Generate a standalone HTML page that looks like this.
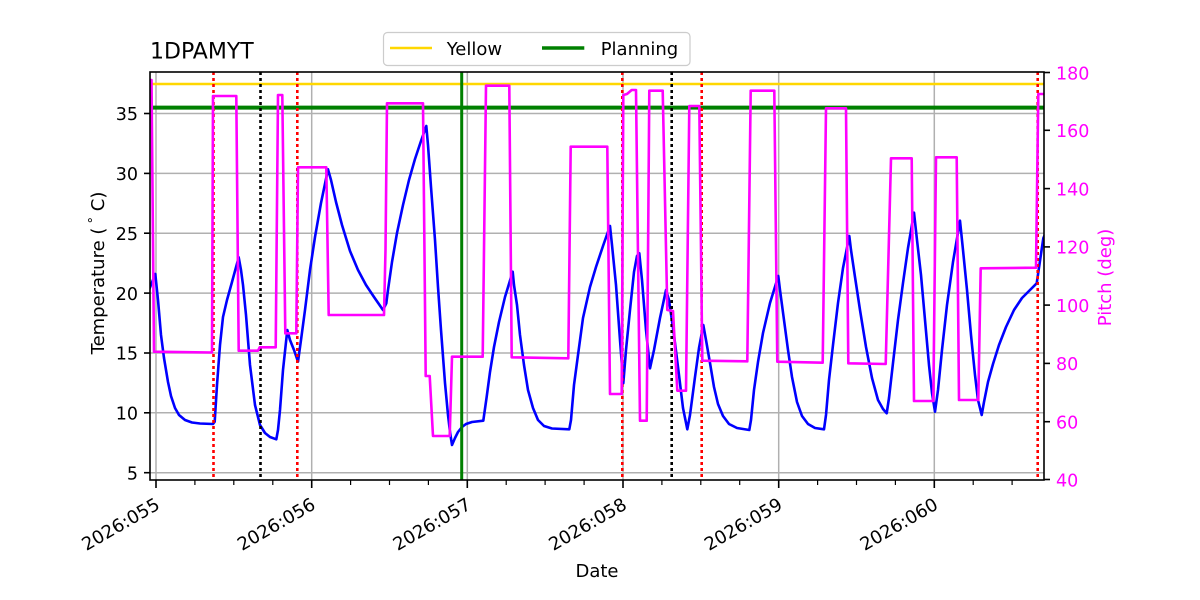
<!DOCTYPE html>
<html>
<head>
<meta charset="utf-8">
<style>
  html, body { margin: 0; padding: 0; background: #ffffff; }
  svg { display: block; }
  text { font-family: "DejaVu Sans", "Liberation Sans", sans-serif; }
</style>
</head>
<body>
<svg width="1200" height="600" viewBox="0 0 1200 600" xmlns="http://www.w3.org/2000/svg">
  <defs>
    <clipPath id="plot">
      <rect x="150" y="72" width="894" height="408"/>
    </clipPath>
  </defs>
  <rect x="0" y="0" width="1200" height="600" fill="#ffffff"/>

  <!-- grid -->
  <g stroke="#b0b0b0" stroke-width="1.5" clip-path="url(#plot)">
    <line x1="156" y1="72" x2="156" y2="480"/>
    <line x1="311.7" y1="72" x2="311.7" y2="480"/>
    <line x1="467.3" y1="72" x2="467.3" y2="480"/>
    <line x1="623" y1="72" x2="623" y2="480"/>
    <line x1="778.7" y1="72" x2="778.7" y2="480"/>
    <line x1="934.3" y1="72" x2="934.3" y2="480"/>
    <line x1="150" y1="113.5" x2="1044" y2="113.5"/>
    <line x1="150" y1="173.4" x2="1044" y2="173.4"/>
    <line x1="150" y1="233.2" x2="1044" y2="233.2"/>
    <line x1="150" y1="293.1" x2="1044" y2="293.1"/>
    <line x1="150" y1="353" x2="1044" y2="353"/>
    <line x1="150" y1="412.8" x2="1044" y2="412.8"/>
    <line x1="150" y1="472.7" x2="1044" y2="472.7"/>
  </g>

  <g clip-path="url(#plot)">
    <!-- limit lines -->
    <line x1="150" y1="84" x2="1044" y2="84" stroke="#ffd700" stroke-width="2.6"/>
    <line x1="150" y1="107.6" x2="1044" y2="107.6" stroke="#008000" stroke-width="4"/>

    <!-- blue temperature -->
    <path fill="none" stroke="#0000ff" stroke-width="2.6" stroke-linejoin="round"
      d="M149,290 L155.3,274 L158,300 L161,335 L164,358 L168,382 L171,396 L175,408 L179,415 L185,420 L192,422.5 L200,423.5 L213,424 L214.7,421.7 L217,385 L220,345 L223,317 L227,300 L232,282 L238.7,257.3 L241,270 L243,285 L246,315 L250,365 L255,405 L260,425 L265,433 L270,437 L276.3,439.3 L278,430 L280,410 L283,370 L287.3,330 L290,340 L294,350 L298,361.7 L301,340 L305,310 L310,270 L315,237 L321,203 L328,169.3 L331,180 L336,202 L342,225 L350,251 L358,270 L366,285 L374,297 L383,310 L386.3,303.3 L388,290 L392,262 L397,233 L403,205 L409,180 L415,159 L421,141 L426.3,126 L428,145 L431,187 L435,240 L438,287 L441,330 L445,383 L448,415 L450,432 L452,445 L455,438 L458,432 L462,427 L466,424 L472,422 L483.3,420.7 L486.7,396.7 L490,372 L494,347 L499,322 L505,297 L512.7,271.7 L514,285 L517,305 L520,335 L524,365 L528,390 L533,408 L538,420 L544,426 L552,428.5 L569.3,429.3 L571,420 L574,385 L578,355 L583,318 L590,287 L596,267 L603,246 L610,226 L612,245 L616,285 L620,340 L623.3,383.3 L626,350 L630,310 L634,272 L637,256 L639.3,253.3 L642,280 L646,330 L650,368.3 L654,350 L660,318 L666,290 L669,300 L674,335 L679,375 L683,408 L687.3,429.3 L690,415 L695,377 L699,348 L703.3,325 L706,340 L710,363 L714,387 L718,404 L723,416 L729,424 L737,428 L749.3,430 L751,420 L754,390 L758,362 L763,333 L770,303 L778.3,276 L780,290 L784,320 L788,350 L792,377 L797,402 L802,416 L808,424 L815,428 L824,429.3 L826,415 L829,380 L833,345 L838,303 L843,268 L849.3,236 L851,250 L855,277 L860,310 L866,347 L872,378 L878,400 L883,409 L886.7,413.3 L889,398 L893,363 L898,320 L903,283 L908,248 L914,212.7 L917,240 L921,275 L925,320 L929,365 L932,393 L935,411.7 L938,390 L942,350 L947,305 L953,262 L960,220.7 L963,250 L967,290 L971,335 L975,375 L978,400 L981.7,415 L984,402 L988,382 L993,364 L999,345 L1006,327 L1014,310 L1022,298 L1030,290 L1036.7,283.3 L1043.3,238.3 L1046,232"/>

    <!-- vertical event lines -->
    <g stroke-width="2.6" stroke-dasharray="3 3" fill="none">
      <line x1="213.5" y1="72" x2="213.5" y2="480" stroke="#ff0000"/>
      <line x1="260.5" y1="72" x2="260.5" y2="480" stroke="#000000"/>
      <line x1="297.3" y1="72" x2="297.3" y2="480" stroke="#ff0000"/>
      <line x1="622.3" y1="72" x2="622.3" y2="480" stroke="#ff0000"/>
      <line x1="671.7" y1="72" x2="671.7" y2="480" stroke="#000000"/>
      <line x1="701.7" y1="72" x2="701.7" y2="480" stroke="#ff0000"/>
      <line x1="1037.7" y1="72" x2="1037.7" y2="480" stroke="#ff0000"/>
    </g>
    <line x1="461.7" y1="72" x2="461.7" y2="480" stroke="#008000" stroke-width="3"/>

    <!-- magenta pitch -->
    <path fill="none" stroke="#ff00ff" stroke-width="2.6" stroke-linejoin="round"
      d="M149,80 L151.5,80 L154,351.7 L212,352.5 L213,96 L236.3,96 L238.7,350.7 L258,350.7 L259.7,347.3 L275.7,347.3 L278,95 L282.3,95 L285.3,333.3 L296.3,333.3 L298,167.3 L326.3,167.3 L328.7,315 L384,315 L385.5,250 L387,103.3 L423,103.3 L425.7,376 L429.7,376 L433,436 L449.7,436 L452,356.7 L482.7,356.7 L486,85.7 L509.3,85.7 L511.7,357.3 L568.3,358.3 L570.7,146.7 L607.3,146.7 L610,394 L621.7,394 L623.3,95 L627,94 L631.7,90 L636,90 L640,420.7 L646.7,420.7 L649.3,90.7 L662.7,90.7 L667.3,310 L673,311 L677.3,390.7 L686,390.7 L689.3,106 L699.3,106 L702.3,360.7 L747.3,361.3 L750.7,90.7 L774.3,90.7 L777.3,361.7 L822.7,362.7 L826,108.3 L846,108.3 L848.3,363.3 L885.7,364 L891,158.3 L911.7,158.3 L914,401 L933.3,401 L936,157.3 L956.7,157.3 L959,400 L978.3,400 L980.7,268.3 L1036,267.7 L1038.3,94 L1046,94"/>
  </g>

  <!-- spines -->
  <rect x="150" y="72" width="894" height="408" fill="none" stroke="#000000" stroke-width="1.6"/>

  <!-- x ticks -->
  <g stroke="#000000" stroke-width="1.6">
    <line x1="156" y1="480" x2="156" y2="488"/>
    <line x1="311.7" y1="480" x2="311.7" y2="488"/>
    <line x1="467.3" y1="480" x2="467.3" y2="488"/>
    <line x1="623" y1="480" x2="623" y2="488"/>
    <line x1="778.7" y1="480" x2="778.7" y2="488"/>
    <line x1="934.3" y1="480" x2="934.3" y2="488"/>
  </g>
  <g stroke="#000000" stroke-width="1.2">
    <line x1="194.9" y1="480" x2="194.9" y2="485"/>
    <line x1="233.8" y1="480" x2="233.8" y2="485"/>
    <line x1="272.8" y1="480" x2="272.8" y2="485"/>
    <line x1="350.6" y1="480" x2="350.6" y2="485"/>
    <line x1="389.5" y1="480" x2="389.5" y2="485"/>
    <line x1="428.4" y1="480" x2="428.4" y2="485"/>
    <line x1="506.2" y1="480" x2="506.2" y2="485"/>
    <line x1="545.1" y1="480" x2="545.1" y2="485"/>
    <line x1="584.1" y1="480" x2="584.1" y2="485"/>
    <line x1="661.9" y1="480" x2="661.9" y2="485"/>
    <line x1="700.8" y1="480" x2="700.8" y2="485"/>
    <line x1="739.7" y1="480" x2="739.7" y2="485"/>
    <line x1="817.6" y1="480" x2="817.6" y2="485"/>
    <line x1="856.5" y1="480" x2="856.5" y2="485"/>
    <line x1="895.4" y1="480" x2="895.4" y2="485"/>
    <line x1="973.2" y1="480" x2="973.2" y2="485"/>
    <line x1="1012.1" y1="480" x2="1012.1" y2="485"/>
  </g>
  <g font-size="18" fill="#000000" text-anchor="end">
    <text transform="translate(161,508) rotate(-30)">2026:055</text>
    <text transform="translate(316.7,508) rotate(-30)">2026:056</text>
    <text transform="translate(472.3,508) rotate(-30)">2026:057</text>
    <text transform="translate(628,508) rotate(-30)">2026:058</text>
    <text transform="translate(783.7,508) rotate(-30)">2026:059</text>
    <text transform="translate(939.3,508) rotate(-30)">2026:060</text>
  </g>

  <!-- left y ticks -->
  <g stroke="#000000" stroke-width="1.6">
    <line x1="144" y1="113.5" x2="150" y2="113.5"/>
    <line x1="144" y1="173.4" x2="150" y2="173.4"/>
    <line x1="144" y1="233.2" x2="150" y2="233.2"/>
    <line x1="144" y1="293.1" x2="150" y2="293.1"/>
    <line x1="144" y1="353" x2="150" y2="353"/>
    <line x1="144" y1="412.8" x2="150" y2="412.8"/>
    <line x1="144" y1="472.7" x2="150" y2="472.7"/>
  </g>
  <g font-size="17.5" fill="#000000" text-anchor="end">
    <text x="138" y="120">35</text>
    <text x="138" y="180">30</text>
    <text x="138" y="240">25</text>
    <text x="138" y="300">20</text>
    <text x="138" y="359.5">15</text>
    <text x="138" y="419.5">10</text>
    <text x="138" y="479.5">5</text>
  </g>

  <!-- right y ticks -->
  <g stroke="#000000" stroke-width="1.6">
    <line x1="1044" y1="72.5" x2="1050" y2="72.5"/>
    <line x1="1044" y1="130.3" x2="1050" y2="130.3"/>
    <line x1="1044" y1="188.6" x2="1050" y2="188.6"/>
    <line x1="1044" y1="246.9" x2="1050" y2="246.9"/>
    <line x1="1044" y1="305.1" x2="1050" y2="305.1"/>
    <line x1="1044" y1="363.4" x2="1050" y2="363.4"/>
    <line x1="1044" y1="421.7" x2="1050" y2="421.7"/>
    <line x1="1044" y1="479.5" x2="1050" y2="479.5"/>
  </g>
  <g font-size="17.5" fill="#ff00ff" text-anchor="start">
    <text x="1056" y="79.5">180</text>
    <text x="1056" y="137">160</text>
    <text x="1056" y="195.5">140</text>
    <text x="1056" y="253.5">120</text>
    <text x="1056" y="312">100</text>
    <text x="1056" y="370">80</text>
    <text x="1056" y="428.5">60</text>
    <text x="1056" y="486.5">40</text>
  </g>

  <!-- axis labels -->
  <text x="597" y="577" font-size="18" text-anchor="middle" fill="#000000">Date</text>
  <text transform="translate(104,273) rotate(-90)" font-size="18" text-anchor="middle" fill="#000000">Temperature (<tspan font-size="13" dy="-6">&#160;°</tspan><tspan dy="6">&#160;C)</tspan></text>
  <text transform="translate(1111,277.5) rotate(-90)" font-size="18" text-anchor="middle" fill="#ff00ff">Pitch (deg)</text>

  <!-- title -->
  <text x="150" y="58.5" font-size="22" fill="#000000">1DPAMYT</text>

  <!-- legend -->
  <rect x="383.5" y="32.5" width="306.5" height="33" rx="4" ry="4" fill="#ffffff" fill-opacity="0.8" stroke="#cccccc" stroke-width="1.2"/>
  <line x1="390" y1="48" x2="432" y2="48" stroke="#ffd700" stroke-width="2.6"/>
  <text x="446.7" y="55" font-size="18" fill="#000000">Yellow</text>
  <line x1="542" y1="48" x2="584.3" y2="48" stroke="#008000" stroke-width="3.5"/>
  <text x="600.7" y="55" font-size="18" fill="#000000">Planning</text>
</svg>
</body>
</html>
